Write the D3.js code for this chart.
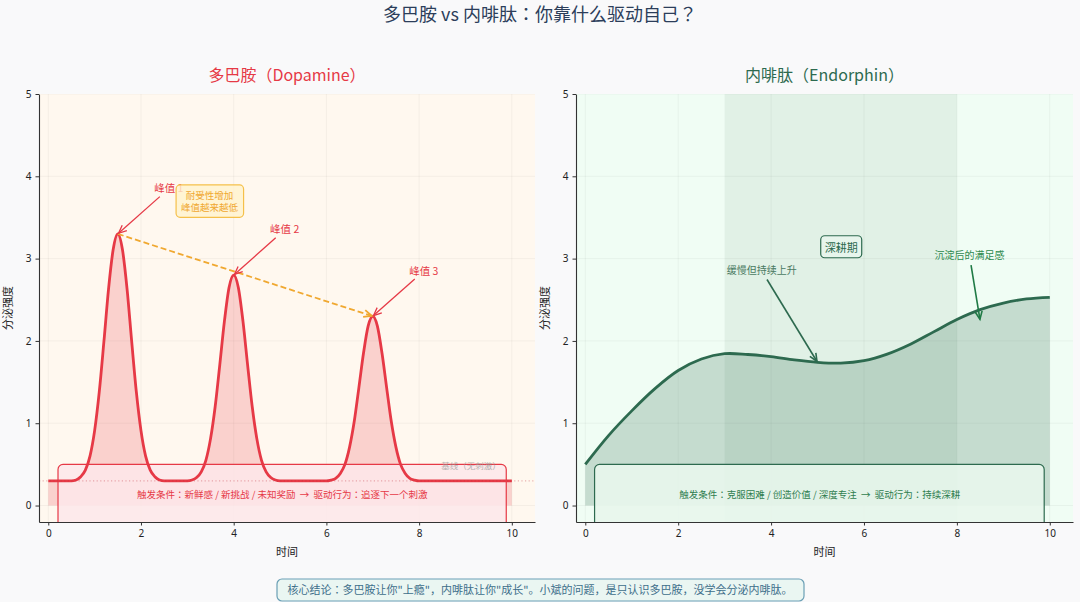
<!DOCTYPE html>
<html>
<head>
<meta charset="utf-8">
<script src="https://cdn.jsdelivr.net/npm/d3@7"></script>
<style>
  body { margin: 0; background: #f9f9fa; }
  text { font-family: "Noto Sans CJK JP", "Noto Sans CJK SC", "Noto Sans", sans-serif; white-space: pre; }
</style>
</head>
<body>
<div id="chart"></div>
<script>
// values
const timeTicks = [0, 2, 4, 6, 8, 10];
const levelTicks = [0, 1, 2, 3, 4, 5];

// dopamine: baseline 0.3 with three spikes that get lower each time
const dopamine = [
  [0, 0.3], [0.5, 0.3], [0.6, 0.31], [0.7, 0.35], [0.8, 0.43], [0.9, 0.6], [1.0, 0.91],
  [1.1, 1.38], [1.2, 1.99], [1.3, 2.63], [1.4, 3.11], [1.5, 3.3], [1.6, 3.11], [1.7, 2.63],
  [1.8, 1.99], [1.9, 1.38], [2.0, 0.91], [2.1, 0.6], [2.2, 0.43], [2.3, 0.35], [2.4, 0.31],
  [2.5, 0.3], [3.0, 0.3], [3.1, 0.31], [3.2, 0.34], [3.3, 0.41], [3.4, 0.55], [3.5, 0.81],
  [3.6, 1.2], [3.7, 1.71], [3.8, 2.24], [3.9, 2.65], [4.0, 2.8], [4.1, 2.65], [4.2, 2.24],
  [4.3, 1.71], [4.4, 1.2], [4.5, 0.81], [4.6, 0.55], [4.7, 0.41], [4.8, 0.34], [4.9, 0.31],
  [5.0, 0.3], [6.0, 0.3], [6.1, 0.31], [6.2, 0.33], [6.3, 0.39], [6.4, 0.5], [6.5, 0.71],
  [6.6, 1.02], [6.7, 1.43], [6.8, 1.85], [6.9, 2.18], [7.0, 2.3], [7.1, 2.18], [7.2, 1.85],
  [7.3, 1.43], [7.4, 1.02], [7.5, 0.71], [7.6, 0.5], [7.7, 0.39], [7.8, 0.33], [7.9, 0.31],
  [8.0, 0.3], [10, 0.3]
];
const dopamineBaseline = 0.3;
const dopaminePeaks = [
  { label: "峰值 1", t: 1.5, v: 3.3 },
  { label: "峰值 2", t: 4.0, v: 2.8 },
  { label: "峰值 3", t: 7.0, v: 2.3 }
];

// endorphin: slow rise, small dip, then keeps climbing
const endorphin = [
  [0, 0.5], [0.5, 0.85], [1, 1.15], [1.5, 1.42], [2, 1.64], [2.5, 1.78], [3, 1.845],
  [3.5, 1.835], [4, 1.81], [4.5, 1.77], [5, 1.74], [5.5, 1.73], [6, 1.76], [6.5, 1.84],
  [7, 1.96], [7.5, 2.11], [8, 2.26], [8.5, 2.38], [9, 2.46], [9.5, 2.51], [10, 2.53]
];
const deepSpan = [3, 8];

const red = "#e63946", green = "#2d6a4f", orange = "#f0a830";

const width = 1080, height = 602;
const plotTop = 94, plotBottom = 522;

let svg = d3.select("#chart")
  .append("svg")
  .attr("width", width)
  .attr("height", height)
  .attr("viewBox", [0, 0, width, height]);

svg.append("rect").attr("width", width).attr("height", height).attr("fill", "#f9f9fa");

// annotate-style arrow: line plus open head
function arrow(g, x1, y1, x2, y2, color, lw, shrinkA, shrinkB, dash) {
  const dx = x2 - x1, dy = y2 - y1, len = Math.hypot(dx, dy);
  const ux = dx / len, uy = dy / len;
  const sx = x1 + ux * shrinkA, sy = y1 + uy * shrinkA;
  const ex = x2 - ux * shrinkB, ey = y2 - uy * shrinkB;
  g.append("line")
    .attr("x1", sx).attr("y1", sy).attr("x2", ex).attr("y2", ey)
    .attr("stroke", color).attr("stroke-width", lw)
    .attr("stroke-dasharray", dash || null);
  const hl = 8, hw = 3.5;
  const bx = ex - ux * hl, by = ey - uy * hl;
  g.append("path")
    .attr("d", `M${bx - uy * hw},${by + ux * hw} L${ex},${ey} L${bx + uy * hw},${by - ux * hw}`)
    .attr("fill", "none").attr("stroke", color).attr("stroke-width", lw);
}

// text with a rounded box around it
function boxedText(g, cx, cy, lines, opts) {
  const grp = g.append("g");
  const rect = grp.append("rect");
  const t = grp.append("text")
    .attr("text-anchor", "middle")
    .style("font-size", opts.size + "px")
    .style("fill", opts.color);
  const lh = opts.size * 1.3;
  lines.forEach((l, i) => {
    t.append("tspan")
      .attr("x", cx)
      .attr("y", cy + (i - (lines.length - 1) / 2) * lh)
      .attr("dy", "0.35em")
      .text(l);
  });
  const bb = t.node().getBBox();
  rect.attr("x", bb.x - opts.padX).attr("y", bb.y - opts.padY)
    .attr("width", bb.width + 2 * opts.padX).attr("height", bb.height + 2 * opts.padY)
    .attr("rx", 4)
    .attr("fill", opts.fill).attr("fill-opacity", opts.fillOpacity)
    .attr("stroke", opts.stroke).attr("stroke-width", 1.2);
}

function panel(id, left, right, bg) {
  let x = d3.scaleLinear().domain([-0.2, 10.5]).range([left, right]);
  let y = d3.scaleLinear().domain([-0.2, 5]).range([plotBottom, plotTop]);

  svg.append("clipPath").attr("id", "clip-" + id)
    .append("rect")
    .attr("x", left).attr("y", plotTop)
    .attr("width", right - left).attr("height", plotBottom - plotTop);

  let g = svg.append("g");
  g.append("rect")
    .attr("x", left).attr("y", plotTop)
    .attr("width", right - left).attr("height", plotBottom - plotTop)
    .attr("fill", bg);

  let inner = g.append("g").attr("clip-path", `url(#clip-${id})`);
  return { x, y, g, inner, left, right };
}

function grid(p) {
  p.inner.selectAll(".vgrid").data(timeTicks).join("line")
    .attr("x1", d => p.x(d)).attr("x2", d => p.x(d))
    .attr("y1", plotTop).attr("y2", plotBottom)
    .attr("stroke", "#000").attr("stroke-opacity", 0.06).attr("stroke-width", 0.8);
  p.inner.selectAll(".hgrid").data(levelTicks).join("line")
    .attr("y1", d => p.y(d)).attr("y2", d => p.y(d))
    .attr("x1", p.left).attr("x2", p.right)
    .attr("stroke", "#000").attr("stroke-opacity", 0.06).attr("stroke-width", 0.8);
}

function axes(p, title, titleColor) {
  let xa = p.g.append("g")
    .attr("transform", `translate(0,${plotBottom})`)
    .call(d3.axisBottom(p.x).tickValues(timeTicks).tickFormat(d3.format("d"))
      .tickSize(3.5).tickSizeOuter(0).tickPadding(4));
  let ya = p.g.append("g")
    .attr("transform", `translate(${p.left},0)`)
    .call(d3.axisLeft(p.y).tickValues(levelTicks).tickFormat(d3.format("d"))
      .tickSize(3.5).tickSizeOuter(0).tickPadding(4));
  [xa, ya].forEach(a => {
    a.select(".domain").attr("stroke", "#333").attr("stroke-width", 1.1);
    a.selectAll(".tick line").attr("stroke", "#333");
    a.selectAll(".tick text").style("font-size", "10px").style("fill", "#222")
      .style("font-family", "'Noto Sans', 'DejaVu Sans', sans-serif");
  });

  svg.append("text")
    .attr("x", (p.left + p.right) / 2).attr("y", 556)
    .attr("text-anchor", "middle")
    .style("font-size", "11px").style("fill", "#222")
    .text("时间");
  svg.append("text")
    .attr("transform", `translate(${p.left - 27},${(plotTop + plotBottom) / 2}) rotate(-90)`)
    .attr("text-anchor", "middle")
    .style("font-size", "11px").style("fill", "#222")
    .text("分泌强度");
  svg.append("text")
    .attr("x", (p.left + p.right) / 2).attr("y", 81)
    .attr("text-anchor", "middle")
    .style("font-size", "16px").style("fill", titleColor)
    .text(title);
}

// main title
svg.append("text")
  .attr("x", width / 2).attr("y", 21)
  .attr("text-anchor", "middle")
  .style("font-size", "18px").style("fill", "#2c3e5a")
  .text("多巴胺 vs 内啡肽：你靠什么驱动自己？");

// ---------- left: dopamine ----------
let L = panel("dopa", 39, 535, "#fff8ef");
grid(L);

L.inner.append("path")
  .datum(dopamine)
  .attr("fill", red).attr("fill-opacity", 0.2)
  .attr("d", d3.area().x(d => L.x(d[0])).y0(L.y(0)).y1(d => L.y(d[1])).curve(d3.curveMonotoneX));

// bottom trigger box (clipped by the axes)
L.inner.append("rect")
  .attr("x", L.x(0.21)).attr("y", L.y(0.5))
  .attr("width", L.x(9.88) - L.x(0.21)).attr("height", 80)
  .attr("rx", 5)
  .attr("fill", "#fde8ea").attr("fill-opacity", 0.85)
  .attr("stroke", red).attr("stroke-width", 1.2);

L.inner.append("text")
  .attr("x", L.x(9.12)).attr("y", L.y(0.48))
  .attr("dy", "0.35em").attr("text-anchor", "middle")
  .style("font-size", "8.5px").style("fill", "#999").style("opacity", 0.7)
  .text("基线（无刺激）");

L.inner.append("path")
  .datum(dopamine)
  .attr("fill", "none").attr("stroke", red).attr("stroke-width", 2.8)
  .attr("stroke-linejoin", "round")
  .attr("d", d3.line().x(d => L.x(d[0])).y(d => L.y(d[1])).curve(d3.curveMonotoneX));

L.inner.append("line")
  .attr("x1", L.left).attr("x2", L.right)
  .attr("y1", L.y(dopamineBaseline)).attr("y2", L.y(dopamineBaseline))
  .attr("stroke", "#c0303c").attr("stroke-opacity", 0.35)
  .attr("stroke-width", 1.1).attr("stroke-dasharray", "1.2,2.4");

L.inner.append("text")
  .attr("x", L.x(5.05)).attr("y", L.y(0.13))
  .attr("dy", "0.35em").attr("text-anchor", "middle")
  .style("font-size", "9.5px").style("fill", red)
  .text("触发条件：新鲜感 / 新挑战 / 未知奖励  →  驱动行为：追逐下一个刺激");

// dashed trend between first and last peak
arrow(L.inner, L.x(dopaminePeaks[0].t), L.y(dopaminePeaks[0].v),
  L.x(dopaminePeaks[2].t), L.y(dopaminePeaks[2].v), orange, 1.8, 0, 1, "6,3");

// peak labels
dopaminePeaks.forEach(pk => {
  const tx = L.x(pk.t + 1.1), ty = L.y(pk.v + 0.55);
  L.inner.append("text")
    .attr("x", tx).attr("y", ty).attr("dy", "0.35em")
    .attr("text-anchor", "middle")
    .style("font-size", "10.5px").style("fill", red)
    .text(pk.label);
  arrow(L.inner, tx, ty, L.x(pk.t), L.y(pk.v), red, 1.3, 12, 1);
});

boxedText(L.inner, L.x(3.48), L.y(3.69), ["耐受性增加", "峰值越来越低"], {
  size: 9.5, color: orange, padX: 5, padY: 3,
  fill: "#fff3cd", fillOpacity: 0.8, stroke: "#f5c04a"
});

axes(L, "多巴胺（Dopamine）", red);

// ---------- right: endorphin ----------
let R = panel("endo", 576, 1073, "#f0fdf4");

R.inner.append("rect")
  .attr("x", R.x(deepSpan[0])).attr("y", plotTop)
  .attr("width", R.x(deepSpan[1]) - R.x(deepSpan[0])).attr("height", plotBottom - plotTop)
  .attr("fill", green).attr("fill-opacity", 0.08);
grid(R);

R.inner.append("path")
  .datum(endorphin)
  .attr("fill", green).attr("fill-opacity", 0.22)
  .attr("d", d3.area().x(d => R.x(d[0])).y0(R.y(0)).y1(d => R.y(d[1])).curve(d3.curveCatmullRom.alpha(0.5)));

R.inner.append("rect")
  .attr("x", R.x(0.2)).attr("y", R.y(0.5))
  .attr("width", R.x(9.88) - R.x(0.2)).attr("height", 80)
  .attr("rx", 5)
  .attr("fill", "#e8f6ec").attr("fill-opacity", 0.9)
  .attr("stroke", green).attr("stroke-width", 1.2);

R.inner.append("text")
  .attr("x", R.x(5.05)).attr("y", R.y(0.13))
  .attr("dy", "0.35em").attr("text-anchor", "middle")
  .style("font-size", "9.5px").style("fill", "#2f7d4f")
  .text("触发条件：克服困难 / 创造价值 / 深度专注  →  驱动行为：持续深耕");

R.inner.append("path")
  .datum(endorphin)
  .attr("fill", "none").attr("stroke", green).attr("stroke-width", 2.8)
  .attr("d", d3.line().x(d => R.x(d[0])).y(d => R.y(d[1])).curve(d3.curveCatmullRom.alpha(0.5)));

boxedText(R.inner, R.x(5.51), R.y(3.13), ["深耕期"], {
  size: 11, color: green, padX: 4, padY: 3,
  fill: "#e8f5ec", fillOpacity: 0.9, stroke: green
});

// curve annotations
const endoNotes = [
  { label: "缓慢但持续上升", tx: 3.8, ty: 2.85, t: 5.0, v: 1.74, color: "#4a7a62", arrowColor: green },
  { label: "沉淀后的满足感", tx: 8.27, ty: 3.04, t: 8.5, v: 2.25, color: "#2d8a4e", arrowColor: "#1f7a45" }
];
endoNotes.forEach(n => {
  const tx = R.x(n.tx), ty = R.y(n.ty);
  R.inner.append("text")
    .attr("x", tx).attr("y", ty).attr("dy", "0.35em")
    .attr("text-anchor", "middle")
    .style("font-size", "10px").style("fill", n.color)
    .text(n.label);
  arrow(R.inner, tx, ty, R.x(n.t), R.y(n.v), n.arrowColor, 1.6, 10, 1);
});

axes(R, "内啡肽（Endorphin）", green);

// conclusion footer
svg.append("rect")
  .attr("x", 277).attr("y", 579).attr("width", 527).attr("height", 22)
  .attr("rx", 5)
  .attr("fill", "#eaf6f2").attr("stroke", "#6a9fb5").attr("stroke-width", 1.2);
svg.append("text")
  .attr("x", width / 2).attr("y", 590).attr("dy", "0.35em")
  .attr("text-anchor", "middle")
  .style("font-size", "11px").style("fill", "#3d6e8a")
  .text("核心结论：多巴胺让你\"上瘾\"，内啡肽让你\"成长\"。小斌的问题，是只认识多巴胺，没学会分泌内啡肽。");
</script>
</body>
</html>
